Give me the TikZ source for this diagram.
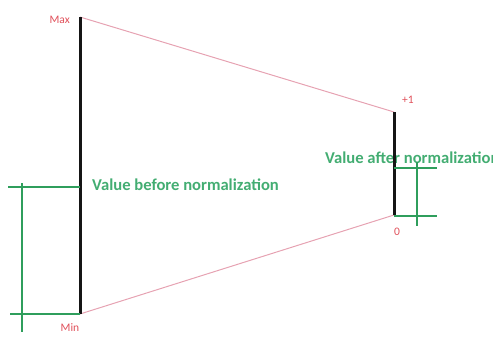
\documentclass[tikz,border=0pt]{standalone}
\usepackage{fontspec}
\setmainfont{Carlito}
\usetikzlibrary{positioning}
\definecolor{nmink}{HTML}{151515}
\definecolor{nmred}{HTML}{E0505A}
\definecolor{nmpink}{HTML}{E6A2B2}
\definecolor{nmgreen}{HTML}{2F9E5C}
\definecolor{nmtext}{HTML}{43AD72}
\tikzset{
  nm bar/.style={draw=nmink, line width=3pt},
  nm link/.style={draw=nmpink, line width=1pt},
  nm guide/.style={draw=nmgreen, line width=2.5pt},
  nm mark/.style={font=\fontsize{11.5}{13}\selectfont, text=nmred, inner sep=1pt},
  nm caption/.style={font=\fontsize{16.6}{19}\selectfont\bfseries, text=nmtext,
    inner sep=0pt, anchor=west}
}

\begin{document}
\begin{tikzpicture}[x=1pt, y=-1pt]
  \useasboundingbox (0,0) rectangle (493,340);
  % ends of the two ranges
  \coordinate (maxtop) at (80,17);
  \coordinate (minbot) at (80,314);
  \coordinate (onetop) at (394,112);
  \coordinate (zerobot) at (394,215);
  % captions sit under the lines
  \node[nm caption] (before) at (92,185) {Value before normalization};
  \node[nm caption] (after) at (325,158) {Value after normalization};
  % mapping lines
  \draw[nm link] (maxtop) -- (onetop);
  \draw[nm link] (minbot) -- (zerobot);
  \draw[nm bar] (maxtop) -- (minbot);
  \draw[nm bar] (onetop) -- (zerobot);
  % range marks
  \node[nm mark, anchor=east] (maxlabel) at (71,20) {Max};
  \node[nm mark] (minlabel) at (70,328) {Min};
  \node[nm mark] (onelabel) at (408,100) {+1};
  \node[nm mark] (zerolabel) at (397,232) {0};
  % green brackets
  \draw[nm guide] (80,187) -- (8,187);
  \draw[nm guide] (minbot) -- (10,314);
  \draw[nm guide] (22,183) -- (22,332);
  \draw[nm guide] (394,168) -- (437,168);
  \draw[nm guide] (394,216) -- (437,216);
  \draw[nm guide] (417,162) -- (417,226);
\end{tikzpicture}
\end{document}
